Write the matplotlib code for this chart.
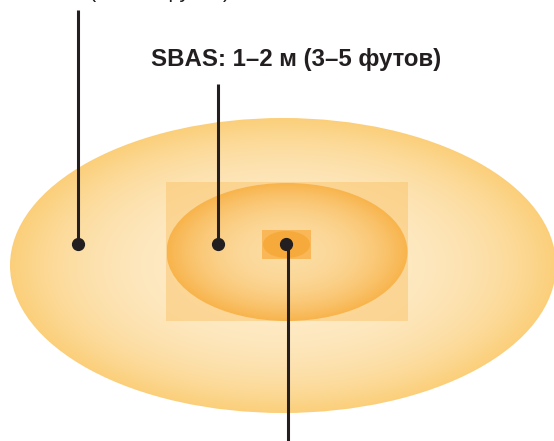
import numpy as np
import matplotlib.pyplot as plt
from matplotlib.patches import Ellipse, Rectangle
from matplotlib.colors import to_rgb

# Зоны точности (в пикселях исходной схемы): центр x, центр y, ширина, высота
zona_x = [283, 287, 286.5]
zona_y = [265.5, 252, 244.5]
zona_w = [546, 241, 47]
zona_h = [295, 138, 27]
# Прямоугольные подложки: x0, y0, ширина, высота
ret_x = [166, 262]
ret_y = [182, 230]
ret_w = [242, 49]
ret_h = [139, 29]
# Выноски: x, верх линии, низ линии
linha_x = [78, 218, 288]
linha_y0 = [10, 84, 244]
linha_y1 = [244, 244, 441]
rotulos = ['SBAS: 1–2 м (3–5 футов)', 'GPS: 3–5 м (10–15 футов)']
rotulo_x = [296, 100]
rotulo_y = [66, -3.5]

W, H = 554, 441
fig = plt.figure(figsize=(W / 100, H / 100), dpi=100)
ax = fig.add_axes([0, 0, 1, 1])
ax.set_xlim(0, W)
ax.set_ylim(H, 0)
ax.axis('off')


def elipse_gradiente(cx, cy, w, h, c_centro, c_borda, p, z):
    a, b = w / 2, h / 2
    xs = np.linspace(cx - a, cx + a, 400)
    ys = np.linspace(cy - b, cy + b, 300)
    X, Y = np.meshgrid(xs, ys)
    r = np.clip(np.sqrt(((X - cx) / a) ** 2 + ((Y - cy) / b) ** 2), 0, 1)
    t = r ** p
    c0, c1 = np.array(to_rgb(c_centro)), np.array(to_rgb(c_borda))
    img = c0[None, None, :] * (1 - t[..., None]) + c1[None, None, :] * t[..., None]
    patch = Ellipse((cx, cy), w, h, facecolor='none', edgecolor='none')
    ax.add_patch(patch)
    im = ax.imshow(img, extent=(cx - a, cx + a, cy + b, cy - b),
                   origin='upper', zorder=z, interpolation='bilinear')
    im.set_clip_path(patch)


# Elipse grande
elipse_gradiente(zona_x[0], zona_y[0], zona_w[0], zona_h[0], '#FEEBC8', '#FBCF7A', 3.0, 1)
# Retângulo médio
ax.add_patch(Rectangle((ret_x[0], ret_y[0]), ret_w[0], ret_h[0],
                       facecolor='#FAC46A', alpha=0.5, edgecolor='none', zorder=2))
# Elipse média
elipse_gradiente(zona_x[1], zona_y[1], zona_w[1], zona_h[1], '#FCDCA2', '#F8B44C', 2.2, 3)
# Retângulo pequeno
ax.add_patch(Rectangle((ret_x[1], ret_y[1]), ret_w[1], ret_h[1],
                       facecolor='#F9B757', edgecolor='none', zorder=4))
ax.add_patch(Ellipse((zona_x[2], zona_y[2]), zona_w[2], zona_h[2],
                     facecolor='#F7AA3C', edgecolor='none', zorder=5))

# Linhas de chamada e pontos
for x, y0, y1 in zip(linha_x, linha_y0, linha_y1):
    ax.plot([x, x], [y0, y1], color='#231F20', lw=2.2, zorder=6,
            solid_capstyle='butt')
pontos_x = [78, 218, 286]
pontos_y = [244, 244, 244]
ax.plot(pontos_x, pontos_y, 'o', color='#231F20', ms=8.5, zorder=7)

ax.text(rotulo_x[0], rotulo_y[0], rotulos[0], ha='center', va='baseline',
        fontsize=17.3, fontweight='bold', family='Liberation Sans', color='#231F20')
ax.text(rotulo_x[1], rotulo_y[1], rotulos[1], ha='center', va='baseline',
        fontsize=15.5, family='Liberation Sans', color='#231F20')

fig.savefig('out.png', dpi=100)
